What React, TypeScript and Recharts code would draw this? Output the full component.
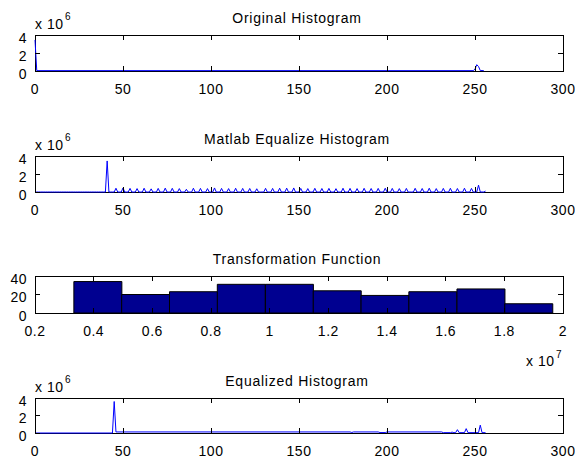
import React from 'react';
import { Bar, BarChart, Line, LineChart, ReferenceArea, XAxis, YAxis } from 'recharts';

// x ticks shared by the three histogram panels
const histTicks = [0, 50, 100, 150, 200, 250, 300];
const countTicks = [0, 2000000, 4000000];

// Original Histogram (sparse bins, rest is the flat floor)
const origBins = [0, 1, 249, 250, 251, 252, 253, 255];
const origCounts = [3450000, 40000, 40000, 200000, 700000, 500000, 50000, 40000];

// Matlab histeq output: only these grey levels are occupied
const matlabBins = [
    41, 46, 50, 54, 58, 62, 66, 70, 74, 78, 82, 86, 90, 94, 98, 102, 106, 110, 114, 118, 122, 126,
    131, 135, 139, 143, 147, 151, 155, 159, 163, 167, 171, 175, 179, 183, 187, 191, 195, 199, 203,
    207, 211, 216, 220, 224, 228, 232, 236, 240, 244, 248, 252, 256,
];
const matlabCounts = [
    3450000, 420000, 450000, 400000, 380000, 420000, 350000, 400000, 430000, 410000, 380000, 300000,
    420000, 400000, 380000, 450000, 400000, 380000, 420000, 400000, 390000, 360000, 410000, 400000,
    420000, 430000, 450000, 400000, 380000, 410000, 390000, 400000, 370000, 420000, 400000, 380000,
    410000, 390000, 400000, 420000, 400000, 380000, 400000, 410000, 390000, 420000, 380000, 400000,
    410000, 390000, 420000, 400000, 760000, 100000,
];

// Equalized Histogram (own implementation)
const eqBins = [
    0, 44, 45, 46, 179, 180, 181, 195, 196, 199, 200, 231, 232, 236, 237, 238, 239, 240, 241, 244,
    245, 246, 252, 253, 254, 256,
];
const eqCounts = [
    0, 0, 3600000, 120000, 120000, 60000, 120000, 120000, 50000, 50000, 120000, 120000, 40000, 40000,
    100000, 40000, 40000, 380000, 40000, 40000, 500000, 40000, 40000, 900000, 40000, 40000,
];

// Transformation Function histogram (x in units of 1e7)
const transCenters = [0.414, 0.577, 0.74, 0.903, 1.067, 1.23, 1.393, 1.556, 1.72, 1.883];
const transCounts = [34, 20, 23, 31, 31, 24, 19, 23, 26, 10];
const transTicks = [0.2, 0.4, 0.6, 0.8, 1, 1.2, 1.4, 1.6, 1.8, 2];
const transYTicks = [0, 20, 40];

const origData = origBins.map((bin, i) => ({ bin, count: origCounts[i] }));
const matlabLookup = new Map(matlabBins.map((b, i) => [b, matlabCounts[i]]));
const matlabData = Array.from({ length: 257 }, (_, bin) => ({ bin, count: matlabLookup.get(bin) ?? 0 }));
const eqData = eqBins.map((bin, i) => ({ bin, count: eqCounts[i] }));
const transData = transCenters.map((center, i) => ({ center, count: transCounts[i] }));

const FONT = '"Liberation Sans", Arial, Helvetica, sans-serif';
const CHART_W = 575;
const PLOT_W = 528;
const Y_W = 35;
const TOP_PAD = 10;
const X_H = 32;

const panels = [
    { top: 35, h: 36 },
    { top: 156, h: 36 },
    { top: 276, h: 37 },
    { top: 398, h: 35 },
];

const fmtMillion = (v: number) => String(v / 1000000);
const fmtPlain = (v: number) => String(v);

const xTick = (plotH: number, fmt: (v: number) => string) => (props: any) => {
    const { x, y, payload } = props;
    return (
        <g>
            <line x1={x} y1={y} x2={x} y2={y - 5} stroke="#000" shapeRendering="crispEdges" />
            <line x1={x} y1={y - plotH} x2={x} y2={y - plotH + 5} stroke="#000" shapeRendering="crispEdges" />
            <text x={x} y={y + 23} textAnchor="middle" fontFamily={FONT} fontSize={14} letterSpacing={0.5} fill="#000">
                {fmt(payload.value)}
            </text>
        </g>
    );
};

const yTick = (fmt: (v: number) => string) => (props: any) => {
    const { x, y, payload } = props;
    return (
        <g>
            <line x1={x} y1={y} x2={x + 5} y2={y} stroke="#000" shapeRendering="crispEdges" />
            <line x1={x + PLOT_W} y1={y} x2={x + PLOT_W - 5} y2={y} stroke="#000" shapeRendering="crispEdges" />
            <text x={x - 8} y={y + 7.5} textAnchor="end" fontFamily={FONT} fontSize={14} letterSpacing={0.5} fill="#000">
                {fmt(payload.value)}
            </text>
        </g>
    );
};

const margin = { top: TOP_PAD, right: CHART_W - Y_W - PLOT_W, bottom: 0, left: 0 };

const HistPanel = ({ idx, data }: { idx: number; data: { bin: number; count: number }[] }) => {
    const p = panels[idx];
    return (
        <div style={{ position: 'absolute', left: 0, top: p.top - TOP_PAD }}>
            <LineChart width={CHART_W} height={TOP_PAD + p.h + X_H} data={data} margin={margin}>
                <XAxis
                    type="number"
                    dataKey="bin"
                    domain={[0, 300]}
                    ticks={histTicks}
                    interval={0}
                    height={X_H}
                    tickSize={0}
                    tickMargin={0}
                    axisLine={false}
                    tick={xTick(p.h, fmtPlain)}
                />
                <YAxis
                    type="number"
                    domain={[0, 4000000]}
                    ticks={countTicks}
                    interval={0}
                    width={Y_W}
                    tickSize={0}
                    tickMargin={0}
                    axisLine={false}
                    tick={yTick(fmtMillion)}
                />
                <ReferenceArea x1={0} x2={300} y1={0} y2={4000000} fill="none" stroke="#000" strokeWidth={1} shapeRendering="crispEdges" />
                <Line type="linear" dataKey="count" stroke="#0000FF" strokeWidth={1} dot={false} isAnimationActive={false} />
            </LineChart>
        </div>
    );
};

const TransPanel = () => {
    const p = panels[2];
    return (
        <div style={{ position: 'absolute', left: 0, top: p.top - TOP_PAD }}>
            <BarChart width={CHART_W} height={TOP_PAD + p.h + X_H} data={transData} margin={margin} barCategoryGap={0} barGap={0}>
                <XAxis
                    type="number"
                    dataKey="center"
                    domain={[0.2, 2]}
                    ticks={transTicks}
                    interval={0}
                    height={X_H}
                    tickSize={0}
                    tickMargin={0}
                    axisLine={false}
                    tick={xTick(p.h, fmtPlain)}
                />
                <YAxis
                    type="number"
                    domain={[0, 40]}
                    ticks={transYTicks}
                    interval={0}
                    width={Y_W}
                    tickSize={0}
                    tickMargin={0}
                    axisLine={false}
                    tick={yTick(fmtPlain)}
                />
                <ReferenceArea x1={0.2} x2={2} y1={0} y2={40} fill="none" stroke="#000" strokeWidth={1} shapeRendering="crispEdges" />
                <Bar dataKey="count" fill="#000090" stroke="#000" strokeWidth={1} isAnimationActive={false} />
            </BarChart>
        </div>
    );
};

const titles = ['Original Histogram', 'Matlab Equalize Histogram', 'Transformation Function', 'Equalized Histogram'];

export default function App() {
    return (
        <div style={{ position: 'absolute', left: 0, top: 0, width: 575, height: 459, background: '#fff', overflow: 'hidden' }}>
            <HistPanel idx={0} data={origData} />
            <HistPanel idx={1} data={matlabData} />
            <TransPanel />
            <HistPanel idx={3} data={eqData} />
            <svg width={575} height={459} style={{ position: 'absolute', left: 0, top: 0, pointerEvents: 'none' }}>
                {panels.map((p, i) => (
                    <text key={titles[i]} x={297} y={p.top - 12} textAnchor="middle" fontFamily={FONT} fontSize={14} letterSpacing={0.75} fill="#000">
                        {titles[i]}
                    </text>
                ))}
                {[0, 1, 3].map((i) => (
                    <g key={i}>
                        <text x={35} y={panels[i].top - 6.5} fontFamily={FONT} fontSize={14} letterSpacing={0.5} fill="#000">x 10</text>
                        <text x={65} y={panels[i].top - 15} fontFamily={FONT} fontSize={10} fill="#000">6</text>
                    </g>
                ))}
                <text x={526} y={366} fontFamily={FONT} fontSize={14} letterSpacing={0.5} fill="#000">x 10</text>
                <text x={556} y={358} fontFamily={FONT} fontSize={10} fill="#000">7</text>
            </svg>
        </div>
    );
}
